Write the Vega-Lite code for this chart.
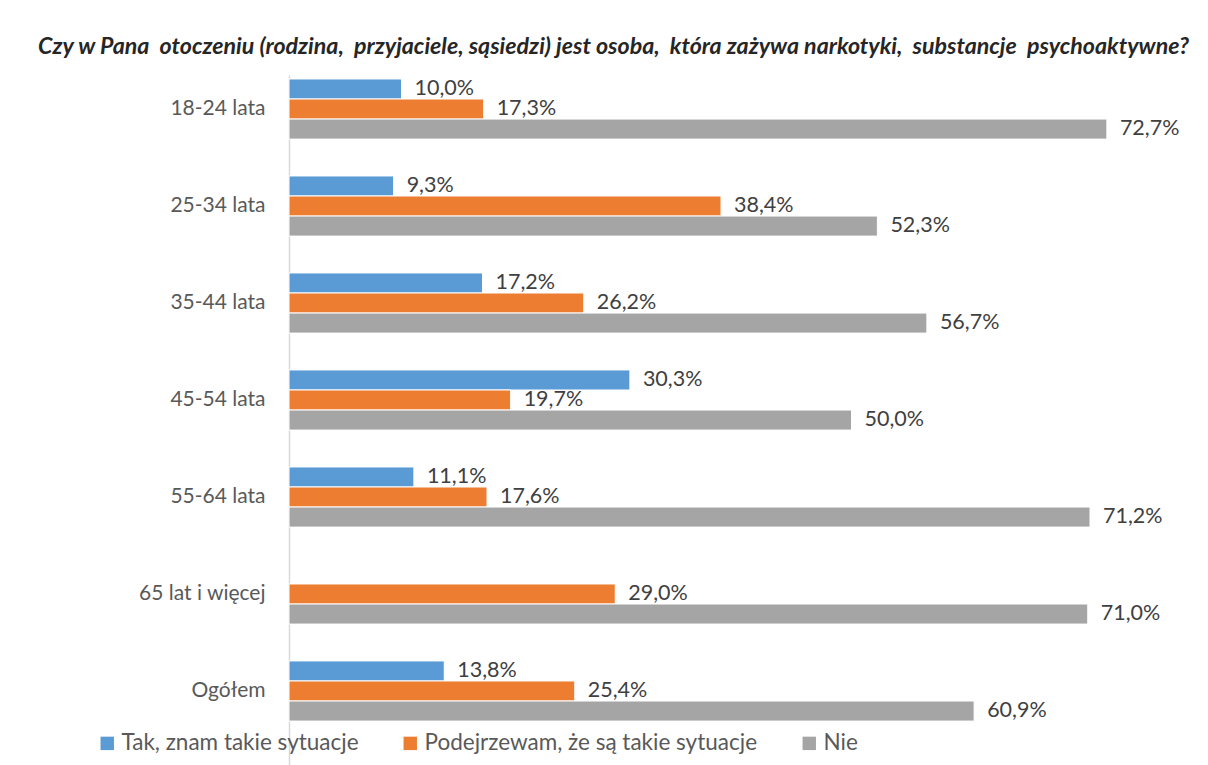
{
  "$schema": "https://vega.github.io/schema/vega-lite/v6.json",
  "autosize": {"type": "none"},
  "padding": {"left": 289, "top": 75, "right": 19, "bottom": 0},
  "width": 900,
  "height": 690,
  "background": "white",
  "title": {
    "text": "Czy w Pana \u00a0otoczeniu (rodzina, \u00a0przyjaciele, sąsiedzi) jest osoba, \u00a0która zażywa narkotyki, \u00a0substancje \u00a0psychoaktywne?",
    "anchor": "start",
    "frame": "group",
    "dx": -251,
    "offset": 16,
    "font": "Lato",
    "fontSize": 23.2,
    "fontWeight": "bold",
    "fontStyle": "italic",
    "color": "#262626"
  },
  "config": {
    "locale": {"number": {"decimal": ",", "thousands": " ", "grouping": [3], "currency": ["", " zł"]}},
    "view": {"stroke": null},
    "font": "Lato"
  },
  "data": {
    "values": [
      {"grupa": "18-24 lata", "odp": "Tak, znam takie sytuacje", "v": 0.100},
      {"grupa": "18-24 lata", "odp": "Podejrzewam, że są takie sytuacje", "v": 0.173},
      {"grupa": "18-24 lata", "odp": "Nie", "v": 0.727},
      {"grupa": "25-34 lata", "odp": "Tak, znam takie sytuacje", "v": 0.093},
      {"grupa": "25-34 lata", "odp": "Podejrzewam, że są takie sytuacje", "v": 0.384},
      {"grupa": "25-34 lata", "odp": "Nie", "v": 0.523},
      {"grupa": "35-44 lata", "odp": "Tak, znam takie sytuacje", "v": 0.172},
      {"grupa": "35-44 lata", "odp": "Podejrzewam, że są takie sytuacje", "v": 0.262},
      {"grupa": "35-44 lata", "odp": "Nie", "v": 0.567},
      {"grupa": "45-54 lata", "odp": "Tak, znam takie sytuacje", "v": 0.303},
      {"grupa": "45-54 lata", "odp": "Podejrzewam, że są takie sytuacje", "v": 0.197},
      {"grupa": "45-54 lata", "odp": "Nie", "v": 0.500},
      {"grupa": "55-64 lata", "odp": "Tak, znam takie sytuacje", "v": 0.111},
      {"grupa": "55-64 lata", "odp": "Podejrzewam, że są takie sytuacje", "v": 0.176},
      {"grupa": "55-64 lata", "odp": "Nie", "v": 0.712},
      {"grupa": "65 lat i więcej", "odp": "Podejrzewam, że są takie sytuacje", "v": 0.290},
      {"grupa": "65 lat i więcej", "odp": "Nie", "v": 0.710},
      {"grupa": "Ogółem", "odp": "Tak, znam takie sytuacje", "v": 0.138},
      {"grupa": "Ogółem", "odp": "Podejrzewam, że są takie sytuacje", "v": 0.254},
      {"grupa": "Ogółem", "odp": "Nie", "v": 0.609}
    ]
  },
  "encoding": {
    "y": {
      "field": "grupa",
      "type": "nominal",
      "sort": ["18-24 lata", "25-34 lata", "35-44 lata", "45-54 lata", "55-64 lata", "65 lat i więcej", "Ogółem"],
      "scale": {"paddingInner": 0.38, "paddingOuter": 0.247, "align": 0.083},
      "axis": {
        "title": null,
        "ticks": false,
        "domainColor": "#D9D9D9",
        "domainWidth": 1.5,
        "labelFontSize": 21,
        "labelColor": "#595959",
        "labelPadding": 24
      }
    },
    "yOffset": {
      "field": "odp",
      "type": "nominal",
      "sort": ["Tak, znam takie sytuacje", "Podejrzewam, że są takie sytuacje", "Nie"],
      "scale": {"domain": ["Tak, znam takie sytuacje", "Podejrzewam, że są takie sytuacje", "Nie"], "paddingInner": 0, "paddingOuter": 0}
    },
    "x": {
      "field": "v",
      "type": "quantitative",
      "scale": {"domain": [0, 0.8], "nice": false},
      "axis": null
    }
  },
  "layer": [
    {
      "mark": {"type": "bar", "stroke": "white", "strokeWidth": 1},
      "encoding": {
        "color": {
          "field": "odp",
          "type": "nominal",
          "sort": ["Tak, znam takie sytuacje", "Podejrzewam, że są takie sytuacje", "Nie"],
          "scale": {
            "domain": ["Tak, znam takie sytuacje", "Podejrzewam, że są takie sytuacje", "Nie"],
            "range": ["#5B9BD5", "#ED7D31", "#A5A5A5"]
          },
          "legend": {
            "title": null,
            "orient": "none",
            "direction": "horizontal",
            "legendX": -193,
            "legendY": 657,
            "symbolType": "square",
            "symbolSize": 180,
            "symbolStrokeWidth": 0,
            "labelFontSize": 22.5,
            "labelLimit": 500,
            "labelColor": "#595959",
            "labelOffset": 3,
            "columnPadding": 40
          }
        }
      }
    },
    {
      "mark": {"type": "text", "align": "left", "baseline": "middle", "dx": 13, "fontSize": 21.5, "color": "#404040"},
      "encoding": {
        "text": {"field": "v", "type": "quantitative", "format": ".1%"}
      }
    }
  ]
}
